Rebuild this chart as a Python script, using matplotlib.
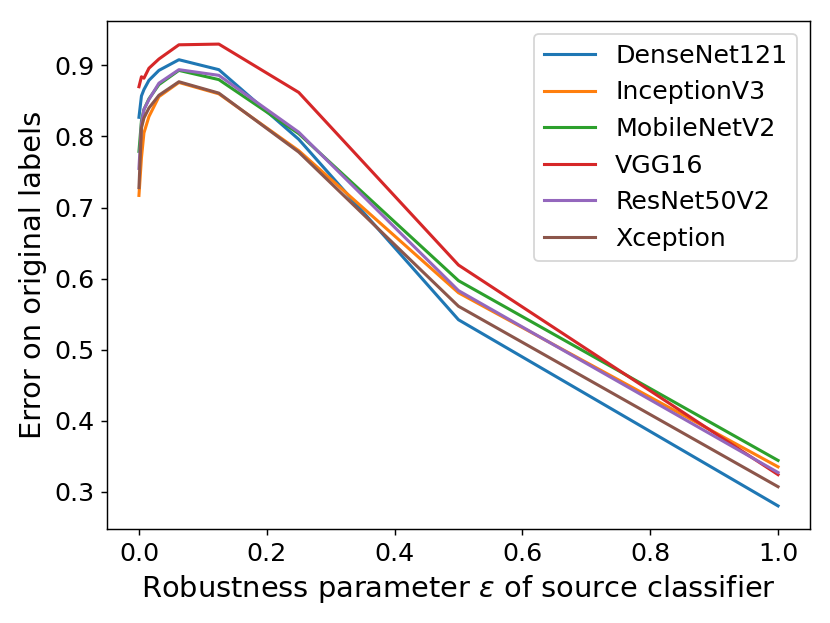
import numpy as np
import matplotlib
matplotlib.use("Agg")
import matplotlib.pyplot as plt

# robustness parameter (eps = k/256)
eps = [0, 1/256, 2/256, 4/256, 8/256, 16/256, 32/256, 64/256, 128/256, 1.0]

densenet = [0.827, 0.857, 0.866, 0.879, 0.893, 0.908, 0.894, 0.796, 0.542, 0.280]
inception = [0.717, 0.770, 0.805, 0.828, 0.856, 0.876, 0.860, 0.780, 0.580, 0.335]
mobilenet = [0.779, 0.822, 0.838, 0.853, 0.873, 0.893, 0.880, 0.804, 0.597, 0.344]
vgg = [0.870, 0.884, 0.882, 0.896, 0.909, 0.929, 0.930, 0.862, 0.619, 0.324]
resnet = [0.755, 0.818, 0.838, 0.852, 0.875, 0.894, 0.886, 0.806, 0.583, 0.327]
xception = [0.728, 0.812, 0.826, 0.840, 0.858, 0.877, 0.861, 0.778, 0.561, 0.307]

series = [
    ("DenseNet121", densenet),
    ("InceptionV3", inception),
    ("MobileNetV2", mobilenet),
    ("VGG16", vgg),
    ("ResNet50V2", resnet),
    ("Xception", xception),
]

fig = plt.figure(figsize=(830/130, 623/130), dpi=130)
ax = fig.add_axes([107/830, 1 - 529/623, (810-107)/830, (529-21)/623])

for name, vals in series:
    ax.plot(eps, vals, linewidth=1.7, label=name)

ax.set_xlabel(r"Robustness parameter $\varepsilon$ of source classifier", fontsize=16)
ax.set_ylabel("Error on original labels", fontsize=16)
ax.tick_params(labelsize=14)
ax.legend(fontsize=14, loc="upper right")

fig.savefig("out.png", dpi=130)
